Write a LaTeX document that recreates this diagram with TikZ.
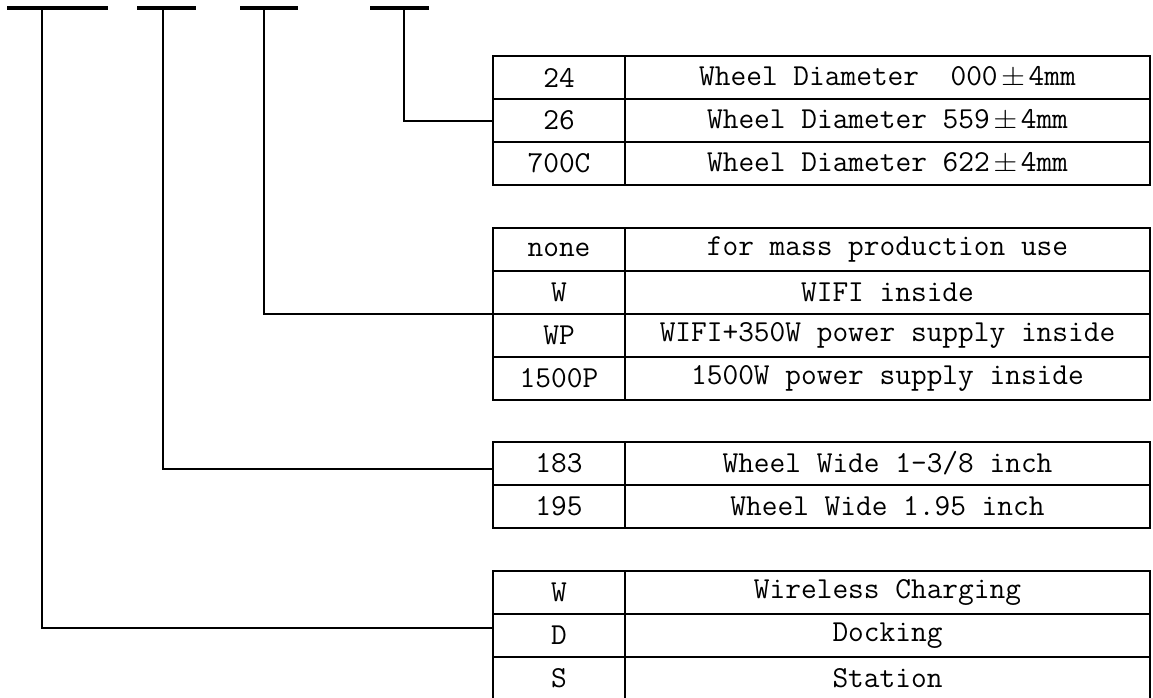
\documentclass[tikz,border=0pt]{standalone}
\usepackage{fontspec}
\usetikzlibrary{positioning}
\newcommand{\pmWide}{\makebox[31pt]{\resizebox{24pt}{16pt}{$\pm$}}}
\tikzset{
  codeCell/.style={
    draw,
    line width=2.6pt,
    minimum width=132pt,
    minimum height=43pt,
    inner sep=0pt,
    outer sep=0pt
  },
  descCell/.style={
    codeCell,
    minimum width=525pt
  },
  codeBar/.style={
    line width=4pt
  },
  leadLine/.style={
    line width=2pt
  }
}

\begin{document}
\begin{tikzpicture}[x=1pt, y=-1pt, font=\ttfamily\fontsize{30.5}{34}\selectfont]
  \useasboundingbox (0,0) rectangle (1153,697);
  % the code bars along the top
  \draw[codeBar] (7,7.5) -- (108,7.5);
  \draw[codeBar] (137,7.5) -- (196,7.5);
  \draw[codeBar] (240,7.5) -- (298,7.5);
  \draw[codeBar] (370,7.5) -- (429,7.5);
  \coordinate (stemA) at (42,7.5);
  \coordinate (stemB) at (163,7.5);
  \coordinate (stemC) at (264,7.5);
  \coordinate (stemD) at (404,7.5);

  % Table 1: wheel diameter
  \node[codeCell] (c24) at (559,77.5) {24};
  \node[descCell, right=0pt of c24] (d24) {Wheel Diameter\ \ 000\pmWide 4mm};
  \node[codeCell, below=0pt of c24] (c26) {26};
  \node[descCell, right=0pt of c26] (d26) {Wheel Diameter 559\pmWide 4mm};
  \node[codeCell, below=0pt of c26] (c700) {700C};
  \node[descCell, right=0pt of c700] (d700) {Wheel Diameter 622\pmWide 4mm};

  % Table 2: options inside
  \node[codeCell] (cNone) at (559,249.5) {none};
  \node[descCell, right=0pt of cNone] (dNone) {for mass production use};
  \node[codeCell, below=0pt of cNone] (cW) {W};
  \node[descCell, right=0pt of cW] (dW) {WIFI inside};
  \node[codeCell, below=0pt of cW] (cWP) {WP};
  \node[descCell, right=0pt of cWP] (dWP) {WIFI+350W power supply inside};
  \node[codeCell, below=0pt of cWP] (c1500) {1500P};
  \node[descCell, right=0pt of c1500] (d1500) {1500W power supply inside};

  % Table 3: wheel width
  \node[codeCell] (c183) at (559,463.5) {183};
  \node[descCell, right=0pt of c183] (d183) {Wheel Wide 1-3/8 inch};
  \node[codeCell, below=0pt of c183] (c195) {195};
  \node[descCell, right=0pt of c195] (d195) {Wheel Wide 1.95 inch};

  % Table 4: charging
  \node[codeCell] (cWc) at (559,592.5) {W};
  \node[descCell, right=0pt of cWc] (dWc) {Wireless Charging};
  \node[codeCell, below=0pt of cWc] (cD) {D};
  \node[descCell, right=0pt of cD] (dD) {Docking};
  \node[codeCell, below=0pt of cD] (cS) {S};
  \node[descCell, right=0pt of cS] (dS) {Station};

  % lead lines from the bars to the tables
  \draw[leadLine] (stemD) |- (c26.west);
  \draw[leadLine] (stemC) |- (cWP.north west);
  \draw[leadLine] (stemB) |- ([yshift=-5.5pt]c183.west);
  \draw[leadLine] (stemA) |- ([yshift=7.5pt]cD.west);
\end{tikzpicture}
\end{document}
